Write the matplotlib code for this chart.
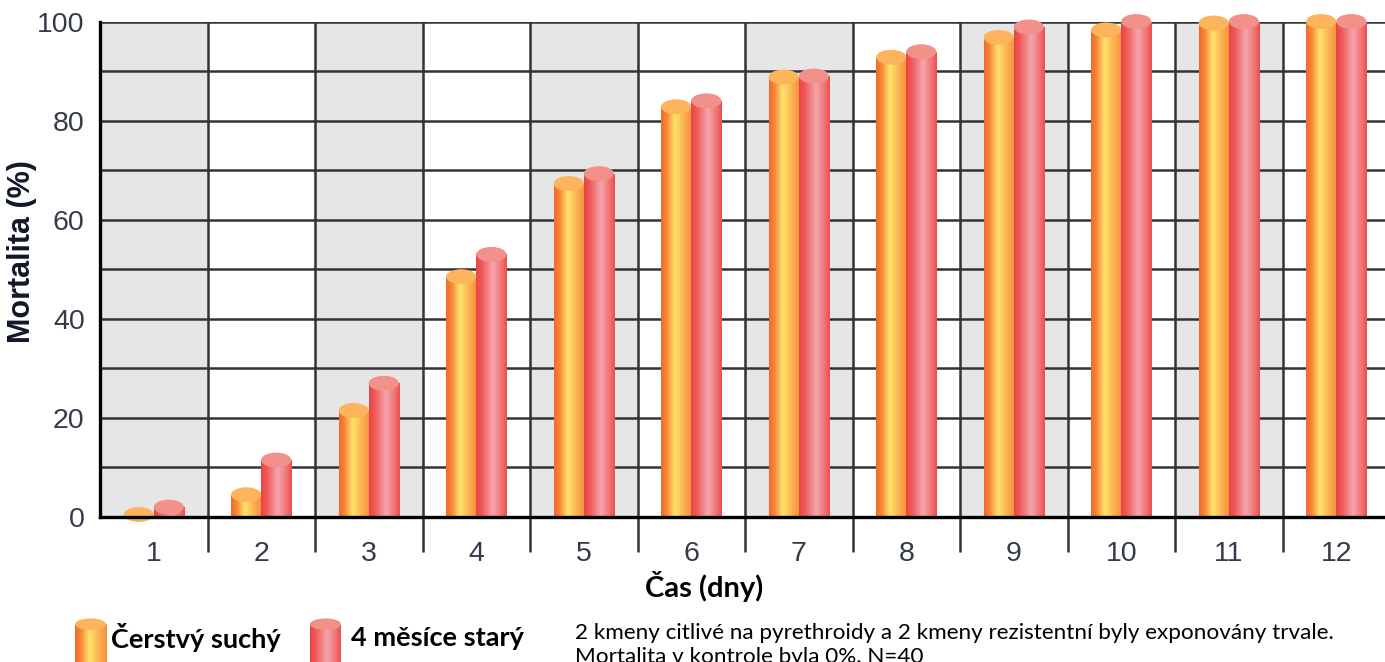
import numpy as np
import matplotlib.pyplot as plt
from matplotlib.patches import Ellipse
from matplotlib.colors import to_rgb

# data
days = [1, 2, 3, 4, 5, 6, 7, 8, 9, 10, 11, 12]
fresh = [0.5, 4.5, 21.5, 48.5, 67.3, 82.8, 88.8, 92.8, 96.8, 98.3, 99.7, 100]
old4m = [2, 11.5, 27, 53, 69.3, 84, 89, 93.9, 98.9, 100, 100, 100]
series_names = ['Čerstvý suchý', '4 měsíce starý']
xlabel = 'Čas (dny)'
ylabel = 'Mortalita (%)'
note_lines = ['2 kmeny citlivé na pyrethroidy a 2 kmeny rezistentní byly exponovány trvale.',
              'Mortalita v kontrole byla 0%. N=40']

# cylinder colours
orange_stops = [(0.0, '#f06a2a'), (0.2, '#f78c3c'), (0.45, '#ffe46a'), (0.75, '#fbb052'), (1.0, '#f7903a')]
red_stops = [(0.0, '#ea4444'), (0.2, '#ef5c5c'), (0.55, '#f5a6ae'), (0.85, '#f07070'), (1.0, '#eb5050')]
orange_top = '#fdb45c'
red_top = '#f2908a'


def gradient(stops, n=64):
    pos = np.array([s[0] for s in stops])
    cols = np.array([to_rgb(s[1]) for s in stops])
    t = np.linspace(0, 1, n)
    rgb = np.stack([np.interp(t, pos, cols[:, k]) for k in range(3)], axis=-1)
    return rgb[np.newaxis, :, :]


def cylinder(ax, patch, stops, top_color, eh):
    x0 = patch.get_x()
    w = patch.get_width()
    h = patch.get_height()
    xc = x0 + w / 2
    img = gradient(stops)
    # body
    im = ax.imshow(img, extent=[x0, x0 + w, -eh, h], aspect='auto', zorder=3,
                   interpolation='bilinear')
    im.set_clip_path(patch)
    # rounded bottom
    bottom = Ellipse((xc, 0), w, eh, transform=ax.transData)
    im2 = ax.imshow(img, extent=[x0, x0 + w, -eh, h], aspect='auto', zorder=3,
                    interpolation='bilinear')
    im2.set_clip_box(None)
    im2.set_clip_path(bottom)
    top = Ellipse((xc, h), w, eh, facecolor=top_color, edgecolor='none',
                  zorder=4, clip_on=False)
    ax.add_patch(top)


W, H = 1385, 662
fig = plt.figure(figsize=(W / 100, H / 100), dpi=100)
ax = fig.add_axes([100 / W, 145 / H, 1290 / W, 495.5 / H])

x = np.array(days)
bw = 0.28
ax.set_xlim(0.5, 12.5)
ax.set_ylim(0, 100)

# alternating column shading
for d in days:
    if d % 2 == 1:
        ax.axvspan(d - 0.5, d + 0.5, color='#e6e6e6', zorder=0.1, lw=0)

bars1 = ax.bar(x - bw / 2, fresh, bw, color='none', edgecolor='none', zorder=3)
bars2 = ax.bar(x + bw / 2, old4m, bw, color='none', edgecolor='none', zorder=3)
for p in bars1:
    cylinder(ax, p, orange_stops, orange_top, 3.0)
for p in bars2:
    cylinder(ax, p, red_stops, red_top, 3.0)

ax.set_xlim(0.5, 12.5)
ax.set_ylim(0, 100)

# grid and ticks
ax.set_axisbelow(True)
ax.set_yticks(range(0, 101, 20))
ax.set_yticks(range(0, 101, 10), minor=True)
ax.set_xticks(days)
ax.set_xticks(np.arange(1.5, 12, 1), minor=True)
ax.yaxis.grid(True, which='both', color='#333333', lw=1.8)
ax.xaxis.grid(True, which='minor', color='#333333', lw=1.8)
ax.xaxis.grid(False, which='major')
ax.tick_params(axis='y', which='both', length=0, pad=11, labelsize=20.5, labelcolor='#343a48')
ax.tick_params(axis='x', which='major', length=0, pad=17, labelsize=20.5, labelcolor='#343a48')
ax.tick_params(axis='x', which='minor', length=25, width=1.8, color='#333333')
for lab in ax.get_xticklabels() + ax.get_yticklabels():
    lab.set_fontfamily('Liberation Sans')

for s in ['top', 'right']:
    ax.spines[s].set_visible(False)
for s in ['left', 'bottom']:
    ax.spines[s].set_linewidth(2.4)
    ax.spines[s].set_color('black')
    ax.spines[s].set_zorder(5)

fig.text(22 / W, 1 - 252 / H, ylabel, rotation=90, ha='center', va='center',
         fontsize=22, fontweight='bold', family='Liberation Sans', color='#111827')
fig.text(704 / W, 1 - 586 / H, xlabel, ha='center', va='center',
         fontsize=21, fontweight='bold', family='Lato', color='black')

# legend with small cylinders
icon_x = [75, 310]
text_x = [111, 351]
stops_list = [orange_stops, red_stops]
tops = [orange_top, red_top]
for i in range(2):
    iax = fig.add_axes([icon_x[i] / W, 0, 31 / W, 44 / H])
    iax.set_xlim(0, 1)
    iax.set_ylim(0, 10)
    iax.axis('off')
    ib = iax.bar([0.5], [8.6], 1.0, color='none', edgecolor='none')
    cylinder(iax, ib[0], stops_list[i], tops[i], 2.6)
    iax.set_xlim(0, 1)
    iax.set_ylim(0, 10)
    fig.text(text_x[i] / W, 1 - 638 / H, series_names[i], ha='left', va='center',
             fontsize=19.5, fontweight='bold', family='Lato', color='black')

fig.text(575 / W, 1 - 633 / H, note_lines[0], ha='left', va='center',
         fontsize=16.2, family='Lato', color='black')
fig.text(575 / W, 1 - 657 / H, note_lines[1], ha='left', va='center',
         fontsize=16.2, family='Lato', color='black')

fig.savefig('out.png', dpi=100)
